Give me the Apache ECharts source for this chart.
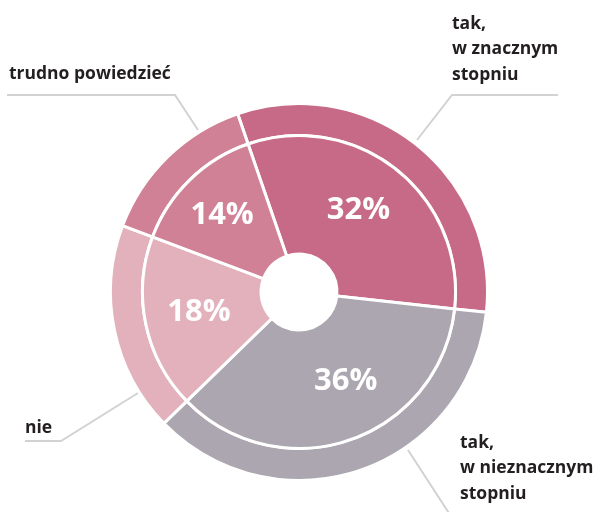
<!DOCTYPE html>
<html>
<head>
<meta charset="utf-8">
<script src="https://cdn.jsdelivr.net/npm/echarts@6/dist/echarts.min.js"></script>
<style>
  html, body { margin: 0; padding: 0; background: #fff; }
  #chart { width: 594px; height: 512px; }
</style>
</head>
<body>
<div id="chart"></div>
<script>
// ---- data ----
const categories = ['tak,\nw znacznym\nstopniu', 'tak,\nw nieznacznym\nstopniu', 'nie', 'trudno powiedzieć'];
const values = [32, 36, 18, 14];

// ---- styles / layout ----
const colors = ['#c66a87', '#aba6b0', '#e2b1bc', '#d08196'];
const pctNudge = [[-3, -3], [14, -6], [-2, 0], [-7, -5]];
const outerLabels = [
  { x: 452, y: 11, line: [[417, 140], [452, 95], [558, 95]] },
  { x: 460, y: 430, line: [[408, 450], [456, 524], [590, 524]] },
  { x: 25, y: 415, line: [[138, 393], [61, 441], [25, 441]] },
  { x: 9, y: 61, line: [[198, 130], [175, 95], [7, 95]] }
];

const chart = echarts.init(document.getElementById('chart'), null, { renderer: 'canvas' });

const outerData = categories.map((c, i) => ({
  name: c, value: values[i], itemStyle: { color: colors[i] }
}));
const innerData = categories.map((c, i) => ({
  name: c, value: values[i], itemStyle: { color: colors[i] },
  label: { offset: pctNudge[i] }
}));

chart.setOption({
  animation: false,
  series: [
    {
      type: 'pie',
      center: [299, 292],
      radius: [156.5, 188.5],
      startAngle: 109,
      clockwise: true,
      avoidLabelOverlap: false,
      silent: true,
      itemStyle: { borderColor: '#fff', borderWidth: 3 },
      label: {
        show: true,
        position: 'outside',
        formatter: '{b}',
        color: '#231f20',
        fontFamily: 'Open Sans',
        fontWeight: 700,
        fontSize: 17.5,
        lineHeight: 25.5,
        align: 'left',
        overflow: 'none'
      },
      labelLine: {
        show: true,
        lineStyle: { color: '#d2d2d2', width: 2 }
      },
      labelLayout: function (params) {
        const o = outerLabels[params.dataIndex];
        return {
          x: o.x, y: o.y,
          align: 'left', verticalAlign: 'top',
          labelLinePoints: o.line
        };
      },
      data: outerData
    },
    {
      type: 'pie',
      center: [299, 292],
      radius: [38, 156.5],
      startAngle: 109,
      clockwise: true,
      avoidLabelOverlap: false,
      silent: true,
      itemStyle: { borderColor: '#fff', borderWidth: 3 },
      label: {
        show: true,
        position: 'inside',
        formatter: '{c}%',
        color: '#fff',
        fontFamily: 'Open Sans',
        fontWeight: 700,
        fontSize: 31
      },
      labelLine: { show: false },
      data: innerData
    }
  ]
});
</script>
</body>
</html>
